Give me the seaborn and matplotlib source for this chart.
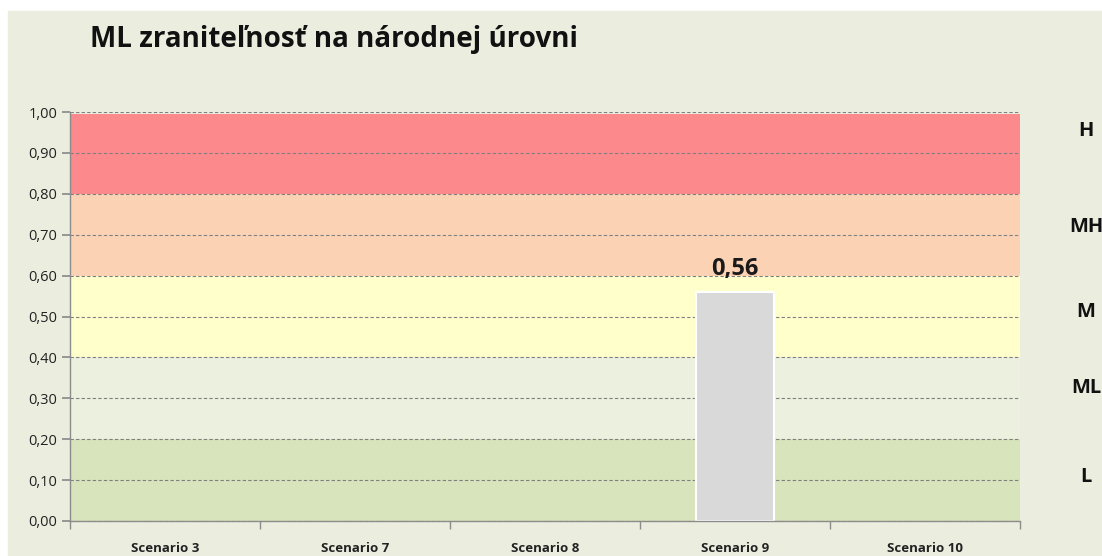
import matplotlib
matplotlib.use("Agg")
import matplotlib.pyplot as plt
import matplotlib.transforms as mtransforms
import seaborn as sns
import pandas as pd
from matplotlib.ticker import FuncFormatter

# data
scenarios = ["Scenario 3", "Scenario 7", "Scenario 8", "Scenario 9", "Scenario 10"]
values = [0.0, 0.0, 0.0, 0.56, 0.0]
band_labels = ["L", "ML", "M", "MH", "H"]
band_edges = [0.0, 0.2, 0.4, 0.6, 0.8, 0.995]
band_colors = ["#D8E4BC", "#EBF1DE", "#FFFFCC", "#FCD2B4", "#FC898C"]
label_pos = [0.107, 0.324, 0.51, 0.72, 0.954]
title = "ML zraniteľnosť na národnej úrovni"

sns.set_theme(style="white")
plt.rcParams["font.family"] = ["Open Sans", "DejaVu Sans"]

bg = "#EBEEDF"
fig = plt.figure(figsize=(11.02, 5.56), dpi=100, facecolor="white")
# chart area (white frame at top/left like the screenshot)
fig.patches.append(plt.Rectangle((8 / 1102, 0), 1, 1 - 11 / 556,
                                 transform=fig.transFigure, color=bg, zorder=-10))

ax = fig.add_axes([70 / 1102, 1 - 521 / 556, 950 / 1102, 409 / 556])
ax.set_zorder(1)
ax.set_facecolor(bg)

for lo, hi, c in zip(band_edges[:-1], band_edges[1:], band_colors):
    ax.axhspan(lo, hi, color=c, zorder=0, lw=0)

df = pd.DataFrame({"scenario": scenarios, "value": values})
sns.barplot(data=df, x="scenario", y="value", color="#D9D9D9",
            edgecolor="white", linewidth=1.5, width=0.41, saturation=1,
            ax=ax, zorder=3)
# empty bars should not leave a white edge on the axis
for p in ax.patches:
    if p.get_height() == 0:
        p.set_linewidth(0)

ax.set_ylim(0, 1.0)
ax.set_xlim(-0.5, len(scenarios) - 0.5)
ax.set_yticks([i / 10 for i in range(11)])
ax.yaxis.set_major_formatter(FuncFormatter(lambda v, p: f"{v:.2f}".replace(".", ",")))
ax.grid(axis="y", color="#7F7F7F", linestyle=(0, (3, 2)), linewidth=0.8, zorder=2)
ax.set_axisbelow(False)

for s in ["top", "right"]:
    ax.spines[s].set_visible(False)
for s in ["left", "bottom"]:
    ax.spines[s].set_color("#8C8C8C")
    ax.spines[s].set_linewidth(1.0)
    ax.spines[s].set_zorder(4)

ax.tick_params(axis="y", which="major", left=True, length=6, color="#8C8C8C",
               labelsize=10.5, labelcolor="#222222", pad=3)
ax.set_xticks(range(len(scenarios)))
ax.set_xticklabels(scenarios, fontsize=9.5, fontweight="bold", color="#222222")
ax.tick_params(axis="x", which="major", bottom=False, pad=9)
ax.set_xticks([i + 0.5 for i in range(-1, len(scenarios))], minor=True)
ax.tick_params(axis="x", which="minor", bottom=True, length=6, color="#8C8C8C")
ax.set_xlabel("")
ax.set_ylabel("")

for i, v in enumerate(values):
    if v > 0:
        ax.text(i, v + 0.042, f"{v:.2f}".replace(".", ","), ha="center", va="baseline",
                fontsize=17, fontweight="bold", color="#1A1A1A", zorder=5)

trans = mtransforms.blended_transform_factory(fig.transFigure, ax.transData)
for lab, y in zip(band_labels, label_pos):
    ax.text(1086 / 1102, y, lab, transform=trans, ha="center", va="center",
            fontsize=14.5, fontweight="bold", color="#111111", clip_on=False)

fig.text(90 / 1102, 1 - 40 / 556, title, ha="left", va="center",
         fontsize=20, fontweight="bold", color="#111111")

fig.savefig("out.png", dpi=100, facecolor=fig.get_facecolor())
